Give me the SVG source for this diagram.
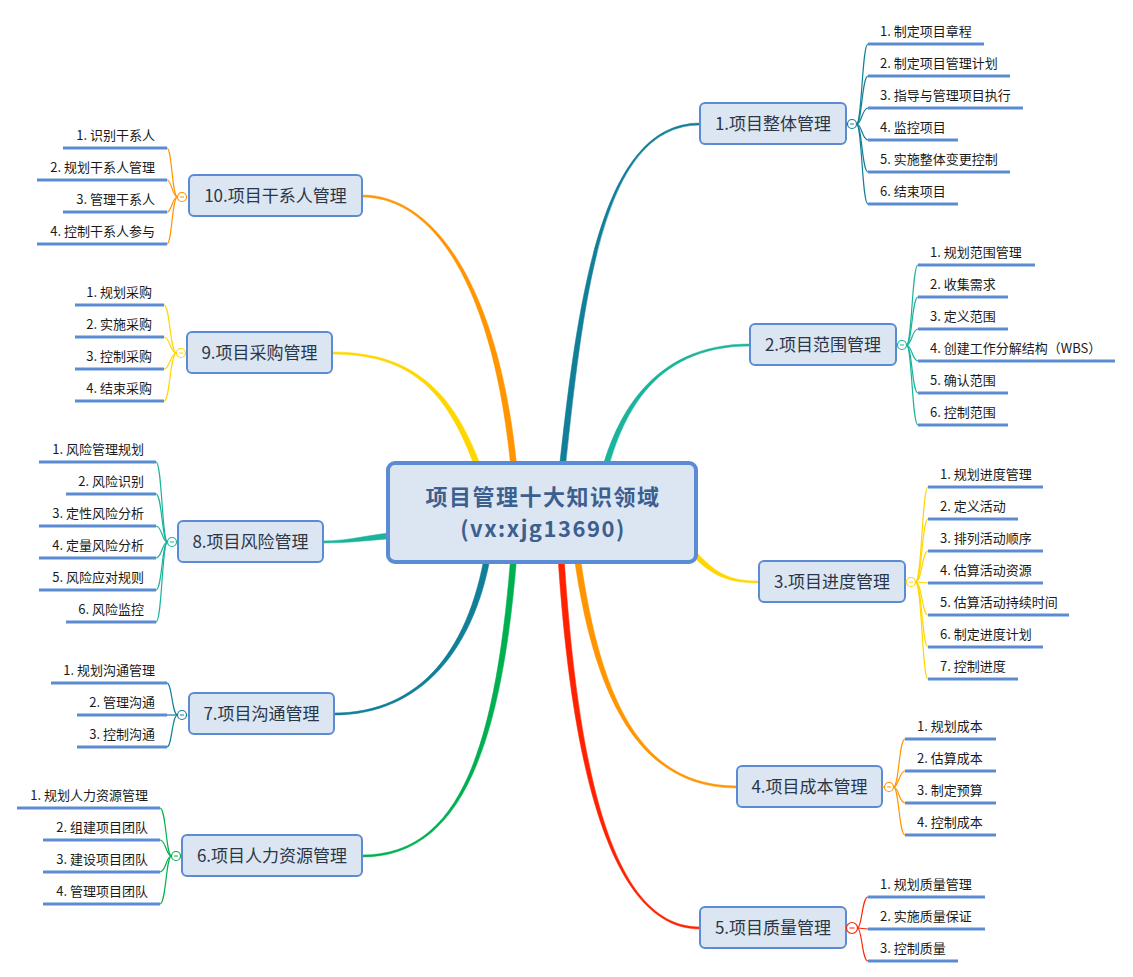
<svg xmlns="http://www.w3.org/2000/svg" width="1133" height="977" viewBox="0 0 1133 977">
<style>
text{font-family:"Noto Sans CJK SC","Liberation Sans",sans-serif}
.leaf{font-size:13px;fill:#1a1a1a}
.l{text-anchor:end}
.ul{stroke:#5b8cd1;stroke-width:3;fill:none}
.box{fill:#dce6f2;stroke:#5b8cd3;stroke-width:2}
.nt{font-size:17px;fill:#2b3648;text-anchor:middle}
.sub{fill:none;stroke-width:1.2}
.tog{fill:#fff;stroke-width:1.2}
.ct{font-size:22px;font-weight:bold;fill:#3d5f8f;text-anchor:middle;letter-spacing:1.5px}
.c1{stroke:#127f98}.f1{fill:#127f98}
.c2{stroke:#1ab39b}.f2{fill:#1ab39b}
.c3{stroke:#ffd700}.f3{fill:#ffd700}
.c4{stroke:#ff9500}.f4{fill:#ff9500}
.c5{stroke:#ff2200}.f5{fill:#ff2200}
.c6{stroke:#00b050}.f6{fill:#00b050}
</style>
<rect width="1133" height="977" fill="#fff"/>
<g id="connectors">
<path class="f1 c1" stroke-width="0.5" d="M563,490 C583,300 600,125 700,125 L700,123 C600,123 577,300 557,490 Z"/>
<path class="f2 c2" stroke-width="0.5" d="M602.9,490.6 C617.9,420.6 650,346 750,346 L750,344 C650,344 612.1,419.4 597.1,489.4 Z"/>
<path class="f3 c3" stroke-width="0.5" d="M677.9,542.1 C707.9,572.1 720,583 759,583 L759,581 C720,581 712.1,567.9 682.1,537.9 Z"/>
<path class="f4 c4" stroke-width="0.5" d="M572,540.4 C592,700.4 640,788 737,788 L737,786 C640,786 598,699.6 578,539.6 Z"/>
<path class="f5 c5" stroke-width="0.5" d="M557,540.2 C572,800.2 620,929 700,929 L700,927 C620,927 578,799.8 563,539.8 Z"/>
<path class="f6 c6" stroke-width="0.5" d="M512,539.8 C497,749.8 460,855 362,855 L362,857 C460,857 503,750.2 518,540.2 Z"/>
<path class="f1 c1" stroke-width="0.5" d="M487,539.6 C472,649.6 420,713 334,713 L334,715 C420,715 478,650.4 493,540.4 Z"/>
<path class="f2 c2" stroke-width="0.5" d="M399.8,532 C369.8,534 350,541 323,541 L323,543 C350,543 370.2,540 400.2,538 Z"/>
<path class="f3 c3" stroke-width="0.5" d="M484.8,477 C457.8,399 420,352 332,352 L332,354 C420,354 452.2,401 479.2,479 Z"/>
<path class="f4 c4" stroke-width="0.5" d="M518,479.75 C503,299.75 440,195 362,195 L362,197 C440,197 497,300.25 512,480.25 Z"/>
<g class="sub c1">
<path d="M856.5,124 C862,124 862,44 868,44"/><path d="M856.5,124 C862,124 862,76 868,76"/><path d="M856.5,124 C862,124 862,108 868,108"/><path d="M856.5,124 C862,124 862,140 868,140"/><path d="M856.5,124 C862,124 862,172 868,172"/><path d="M856.5,124 C862,124 862,204 868,204"/>
</g>
<g class="sub c2">
<path d="M906.5,345 C912,345 912,265 918,265"/><path d="M906.5,345 C912,345 912,297 918,297"/><path d="M906.5,345 C912,345 912,329 918,329"/><path d="M906.5,345 C912,345 912,361 918,361"/><path d="M906.5,345 C912,345 912,393 918,393"/><path d="M906.5,345 C912,345 912,425 918,425"/>
</g>
<g class="sub c3">
<path d="M915.5,582 C922,582 922,487 928,487"/><path d="M915.5,582 C922,582 922,519 928,519"/><path d="M915.5,582 C922,582 922,551 928,551"/><path d="M915.5,582 C922,582 922,583 928,583"/><path d="M915.5,582 C922,582 922,615 928,615"/><path d="M915.5,582 C922,582 922,647 928,647"/><path d="M915.5,582 C922,582 922,679 928,679"/>
</g>
<g class="sub c4">
<path d="M893.5,787 C899,787 899,739 905,739"/><path d="M893.5,787 C899,787 899,771 905,771"/><path d="M893.5,787 C899,787 899,803 905,803"/><path d="M893.5,787 C899,787 899,835 905,835"/>
</g>
<g class="sub c5">
<path d="M857.5,928 C862,928 862,897 868,897"/><path d="M857.5,928 L868,929"/><path d="M857.5,928 C862,928 862,961 868,961"/>
</g>
<g class="sub c4">
<path d="M177.5,197 C172,197 172,148 167,148"/><path d="M177.5,197 C172,197 172,180 167,180"/><path d="M177.5,197 C172,197 172,212 167,212"/><path d="M177.5,197 C172,197 172,244 167,244"/>
</g>
<g class="sub c3">
<path d="M176.5,353 C170,353 170,305 164,305"/><path d="M176.5,353 C170,353 170,337 164,337"/><path d="M176.5,353 C170,353 170,369 164,369"/><path d="M176.5,353 C170,353 170,401 164,401"/>
</g>
<g class="sub c2">
<path d="M167.5,542 C162,542 162,462 156,462"/><path d="M167.5,542 C162,542 162,494 156,494"/><path d="M167.5,542 C162,542 162,526 156,526"/><path d="M167.5,542 C162,542 162,558 156,558"/><path d="M167.5,542 C162,542 162,590 156,590"/><path d="M167.5,542 C162,542 162,622 156,622"/>
</g>
<g class="sub c1">
<path d="M177.5,715 C172,715 172,683 167,683"/><path d="M177.5,715 L167,715"/><path d="M177.5,715 C172,715 172,747 167,747"/>
</g>
<g class="sub c6">
<path d="M171.5,856 C166,856 166,808 160,808"/><path d="M171.5,856 C166,856 166,840 160,840"/><path d="M171.5,856 C166,856 166,872 160,872"/><path d="M171.5,856 C166,856 166,904 160,904"/>
</g>
</g>

<g id="center">
<rect x="388" y="463" width="308" height="99" rx="7" fill="#dce6f2" stroke="#5b8cd3" stroke-width="4"/>
<text class="ct" x="543" y="505">项目管理十大知识领域</text>
<text class="ct" x="543" y="537">(vx:xjg13690)</text>
</g>

<g id="n1">
<rect class="box" x="700" y="103" width="146" height="41" rx="5"/>
<text class="nt" x="773" y="130">1.项目整体管理</text>
<line class="c1" x1="846" y1="124" x2="848" y2="124" stroke-width="1.2"/>
<circle class="tog c1" cx="852" cy="124" r="4.5"/><line class="c1" x1="850" y1="124" x2="854" y2="124"/>
</g>
<g id="n1-1"><line class="ul" x1="868" y1="44" x2="984" y2="44"/><text class="leaf" x="880" y="36">1. 制定项目章程</text></g>
<g id="n1-2"><line class="ul" x1="868" y1="76" x2="1010" y2="76"/><text class="leaf" x="880" y="68">2. 制定项目管理计划</text></g>
<g id="n1-3"><line class="ul" x1="868" y1="108" x2="1023" y2="108"/><text class="leaf" x="880" y="100">3. 指导与管理项目执行</text></g>
<g id="n1-4"><line class="ul" x1="868" y1="140" x2="958" y2="140"/><text class="leaf" x="880" y="132">4. 监控项目</text></g>
<g id="n1-5"><line class="ul" x1="868" y1="172" x2="1010" y2="172"/><text class="leaf" x="880" y="164">5. 实施整体变更控制</text></g>
<g id="n1-6"><line class="ul" x1="868" y1="204" x2="958" y2="204"/><text class="leaf" x="880" y="196">6. 结束项目</text></g>

<g id="n2">
<rect class="box" x="750" y="324" width="146" height="41" rx="5"/>
<text class="nt" x="823" y="351">2.项目范围管理</text>
<line class="c2" x1="896" y1="345" x2="898" y2="345" stroke-width="1.2"/>
<circle class="tog c2" cx="902" cy="345" r="4.5"/><line class="c2" x1="900" y1="345" x2="904" y2="345"/>
</g>
<g id="n2-1"><line class="ul" x1="918" y1="265" x2="1035" y2="265"/><text class="leaf" x="930" y="257">1. 规划范围管理</text></g>
<g id="n2-2"><line class="ul" x1="918" y1="297" x2="1008" y2="297"/><text class="leaf" x="930" y="289">2. 收集需求</text></g>
<g id="n2-3"><line class="ul" x1="918" y1="329" x2="1008" y2="329"/><text class="leaf" x="930" y="321">3. 定义范围</text></g>
<g id="n2-4"><line class="ul" x1="918" y1="361" x2="1115" y2="361"/><text class="leaf" x="930" y="353">4. 创建工作分解结构（WBS）</text></g>
<g id="n2-5"><line class="ul" x1="918" y1="393" x2="1008" y2="393"/><text class="leaf" x="930" y="385">5. 确认范围</text></g>
<g id="n2-6"><line class="ul" x1="918" y1="425" x2="1008" y2="425"/><text class="leaf" x="930" y="417">6. 控制范围</text></g>

<g id="n3">
<rect class="box" x="759" y="561" width="146" height="41" rx="5"/>
<text class="nt" x="832" y="588">3.项目进度管理</text>
<line class="c3" x1="905" y1="582" x2="907" y2="582" stroke-width="1.2"/>
<circle class="tog c3" cx="911" cy="582" r="4.5"/><line class="c3" x1="909" y1="582" x2="913" y2="582"/>
</g>
<g id="n3-1"><line class="ul" x1="928" y1="487" x2="1043" y2="487"/><text class="leaf" x="940" y="479">1. 规划进度管理</text></g>
<g id="n3-2"><line class="ul" x1="928" y1="519" x2="1018" y2="519"/><text class="leaf" x="940" y="511">2. 定义活动</text></g>
<g id="n3-3"><line class="ul" x1="928" y1="551" x2="1043" y2="551"/><text class="leaf" x="940" y="543">3. 排列活动顺序</text></g>
<g id="n3-4"><line class="ul" x1="928" y1="583" x2="1043" y2="583"/><text class="leaf" x="940" y="575">4. 估算活动资源</text></g>
<g id="n3-5"><line class="ul" x1="928" y1="615" x2="1069" y2="615"/><text class="leaf" x="940" y="607">5. 估算活动持续时间</text></g>
<g id="n3-6"><line class="ul" x1="928" y1="647" x2="1043" y2="647"/><text class="leaf" x="940" y="639">6. 制定进度计划</text></g>
<g id="n3-7"><line class="ul" x1="928" y1="679" x2="1018" y2="679"/><text class="leaf" x="940" y="671">7. 控制进度</text></g>

<g id="n4">
<rect class="box" x="737" y="766" width="145" height="41" rx="5"/>
<text class="nt" x="809.5" y="793">4.项目成本管理</text>
<line class="c4" x1="882" y1="787" x2="884.5" y2="787" stroke-width="1.2"/>
<circle class="tog c4" cx="889" cy="787" r="4.5"/><line class="c4" x1="887" y1="787" x2="891" y2="787"/>
</g>
<g id="n4-1"><line class="ul" x1="905" y1="739" x2="996" y2="739"/><text class="leaf" x="917" y="731">1. 规划成本</text></g>
<g id="n4-2"><line class="ul" x1="905" y1="771" x2="996" y2="771"/><text class="leaf" x="917" y="763">2. 估算成本</text></g>
<g id="n4-3"><line class="ul" x1="905" y1="803" x2="996" y2="803"/><text class="leaf" x="917" y="795">3. 制定预算</text></g>
<g id="n4-4"><line class="ul" x1="905" y1="835" x2="996" y2="835"/><text class="leaf" x="917" y="827">4. 控制成本</text></g>

<g id="n5">
<rect class="box" x="700" y="907" width="146" height="41" rx="5"/>
<text class="nt" x="773" y="934">5.项目质量管理</text>
<line class="c5" x1="846" y1="928" x2="847" y2="928" stroke-width="1.2"/>
<circle class="tog c5" cx="852" cy="928" r="5.5"/><line class="c5" x1="849.5" y1="928" x2="854.5" y2="928"/>
</g>
<g id="n5-1"><line class="ul" x1="868" y1="897" x2="985" y2="897"/><text class="leaf" x="880" y="889">1. 规划质量管理</text></g>
<g id="n5-2"><line class="ul" x1="868" y1="929" x2="985" y2="929"/><text class="leaf" x="880" y="921">2. 实施质量保证</text></g>
<g id="n5-3"><line class="ul" x1="868" y1="961" x2="958" y2="961"/><text class="leaf" x="880" y="953">3. 控制质量</text></g>

<g id="n6">
<rect class="box" x="182" y="835" width="180" height="41" rx="5"/>
<text class="nt" x="272" y="862">6.项目人力资源管理</text>
<circle class="tog c6" cx="176" cy="856" r="4.5"/><line class="c6" x1="174" y1="856" x2="178" y2="856"/>
</g>
<g id="n6-1"><line class="ul" x1="17" y1="808" x2="160" y2="808"/><text class="leaf l" x="148" y="800">1. 规划人力资源管理</text></g>
<g id="n6-2"><line class="ul" x1="43" y1="840" x2="160" y2="840"/><text class="leaf l" x="148" y="832">2. 组建项目团队</text></g>
<g id="n6-3"><line class="ul" x1="43" y1="872" x2="160" y2="872"/><text class="leaf l" x="148" y="864">3. 建设项目团队</text></g>
<g id="n6-4"><line class="ul" x1="43" y1="904" x2="160" y2="904"/><text class="leaf l" x="148" y="896">4. 管理项目团队</text></g>

<g id="n7">
<rect class="box" x="189" y="693" width="145" height="41" rx="5"/>
<text class="nt" x="261.5" y="720">7.项目沟通管理</text>
<circle class="tog c1" cx="182" cy="715" r="4.5"/><line class="c1" x1="180" y1="715" x2="184" y2="715"/>
</g>
<g id="n7-1"><line class="ul" x1="51" y1="683" x2="167" y2="683"/><text class="leaf l" x="155" y="675">1. 规划沟通管理</text></g>
<g id="n7-2"><line class="ul" x1="77" y1="715" x2="167" y2="715"/><text class="leaf l" x="155" y="707">2. 管理沟通</text></g>
<g id="n7-3"><line class="ul" x1="77" y1="747" x2="167" y2="747"/><text class="leaf l" x="155" y="739">3. 控制沟通</text></g>

<g id="n8">
<rect class="box" x="178" y="521" width="145" height="41" rx="5"/>
<text class="nt" x="250.5" y="548">8.项目风险管理</text>
<circle class="tog c2" cx="172" cy="542" r="4.5"/><line class="c2" x1="170" y1="542" x2="174" y2="542"/>
</g>
<g id="n8-1"><line class="ul" x1="39" y1="462" x2="156" y2="462"/><text class="leaf l" x="144" y="454">1. 风险管理规划</text></g>
<g id="n8-2"><line class="ul" x1="66" y1="494" x2="156" y2="494"/><text class="leaf l" x="144" y="486">2. 风险识别</text></g>
<g id="n8-3"><line class="ul" x1="39" y1="526" x2="156" y2="526"/><text class="leaf l" x="144" y="518">3. 定性风险分析</text></g>
<g id="n8-4"><line class="ul" x1="39" y1="558" x2="156" y2="558"/><text class="leaf l" x="144" y="550">4. 定量风险分析</text></g>
<g id="n8-5"><line class="ul" x1="39" y1="590" x2="156" y2="590"/><text class="leaf l" x="144" y="582">5. 风险应对规则</text></g>
<g id="n8-6"><line class="ul" x1="66" y1="622" x2="156" y2="622"/><text class="leaf l" x="144" y="614">6. 风险监控</text></g>

<g id="n9">
<rect class="box" x="187" y="332" width="145" height="41" rx="5"/>
<text class="nt" x="259.5" y="359">9.项目采购管理</text>
<circle class="tog c3" cx="181" cy="353" r="4.5"/><line class="c3" x1="179" y1="353" x2="183" y2="353"/>
</g>
<g id="n9-1"><line class="ul" x1="75" y1="305" x2="164" y2="305"/><text class="leaf l" x="152" y="297">1. 规划采购</text></g>
<g id="n9-2"><line class="ul" x1="75" y1="337" x2="164" y2="337"/><text class="leaf l" x="152" y="329">2. 实施采购</text></g>
<g id="n9-3"><line class="ul" x1="75" y1="369" x2="164" y2="369"/><text class="leaf l" x="152" y="361">3. 控制采购</text></g>
<g id="n9-4"><line class="ul" x1="75" y1="401" x2="164" y2="401"/><text class="leaf l" x="152" y="393">4. 结束采购</text></g>

<g id="n10">
<rect class="box" x="189" y="175" width="173" height="41" rx="5"/>
<text class="nt" x="275.5" y="202">10.项目干系人管理</text>
<circle class="tog c4" cx="182" cy="197" r="4.5"/><line class="c4" x1="180" y1="197" x2="184" y2="197"/>
</g>
<g id="n10-1"><line class="ul" x1="63" y1="148" x2="167" y2="148"/><text class="leaf l" x="155" y="140">1. 识别干系人</text></g>
<g id="n10-2"><line class="ul" x1="37" y1="180" x2="167" y2="180"/><text class="leaf l" x="155" y="172">2. 规划干系人管理</text></g>
<g id="n10-3"><line class="ul" x1="63" y1="212" x2="167" y2="212"/><text class="leaf l" x="155" y="204">3. 管理干系人</text></g>
<g id="n10-4"><line class="ul" x1="37" y1="244" x2="167" y2="244"/><text class="leaf l" x="155" y="236">4. 控制干系人参与</text></g>
</svg>
